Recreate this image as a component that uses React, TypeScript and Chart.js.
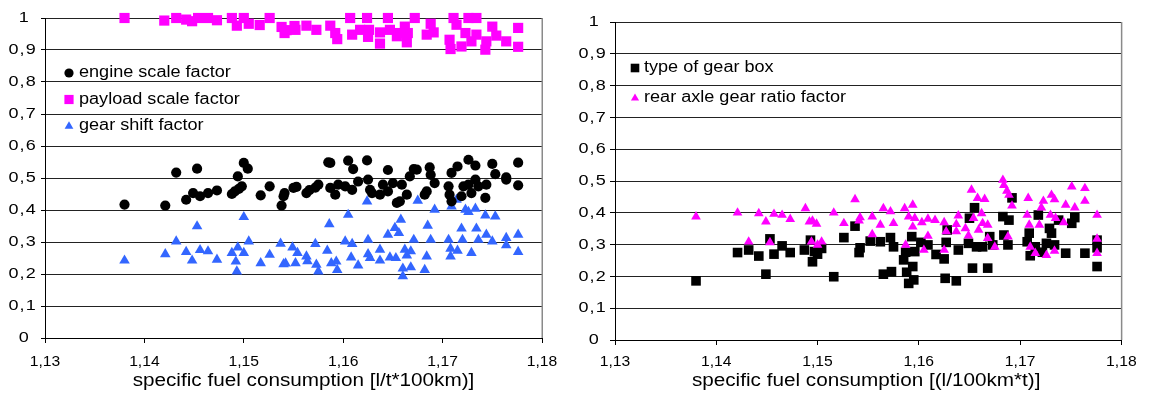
import React, { useEffect, useRef } from 'react';
import { Chart, registerables } from 'chart.js';

Chart.register(...registerables);

const FONT = "'Liberation Sans', Arial, Helvetica, sans-serif";

// ---------- axis ranges ----------
const X_MIN = 1.13;
const X_MAX = 1.18;
const X_STEP = 0.01;
const Y_MIN = 0;
const Y_MAX = 1;
const Y_STEP = 0.1;

// ---------- titles / labels ----------
const LEFT_X_TITLE = 'specific fuel consumption [l/t*100km)]';
const RIGHT_X_TITLE = 'specific fuel consumption [(l/100km*t)]';
const LEFT_LABELS = ['engine scale factor', 'payload scale factor', 'gear shift factor'];
const RIGHT_LABELS = ['type of gear box', 'rear axle gear ratio factor'];

// ---------- left chart data: [x, y] ----------
const engineScale: number[][] = [
  [1.1380, 0.417], [1.1421, 0.414], [1.1432, 0.517], [1.1442, 0.432], [1.1449, 0.453], [1.1453, 0.529],
  [1.1456, 0.443], [1.1464, 0.453], [1.1473, 0.461], [1.1488, 0.450], [1.1491, 0.458], [1.1494, 0.505],
  [1.1495, 0.466], [1.1498, 0.474], [1.1500, 0.547], [1.1504, 0.529], [1.1517, 0.446], [1.1526, 0.474],
  [1.1538, 0.414], [1.1540, 0.443], [1.1541, 0.453], [1.1550, 0.469], [1.1553, 0.472], [1.1563, 0.453],
  [1.1566, 0.462], [1.1572, 0.470], [1.1575, 0.479], [1.1585, 0.549], [1.1587, 0.547], [1.1587, 0.469],
  [1.1592, 0.448], [1.1595, 0.479], [1.1602, 0.474], [1.1605, 0.554], [1.1609, 0.463], [1.1610, 0.528],
  [1.1615, 0.489], [1.1624, 0.555], [1.1625, 0.495], [1.1627, 0.463], [1.1629, 0.453], [1.1637, 0.448],
  [1.1640, 0.479], [1.1645, 0.458], [1.1645, 0.525], [1.1650, 0.484], [1.1654, 0.422], [1.1657, 0.427],
  [1.1659, 0.479], [1.1664, 0.448], [1.1667, 0.505], [1.1671, 0.528], [1.1674, 0.526], [1.1682, 0.448],
  [1.1684, 0.458], [1.1687, 0.533], [1.1688, 0.510], [1.1692, 0.484], [1.1706, 0.474], [1.1707, 0.448],
  [1.1709, 0.427], [1.1709, 0.516], [1.1715, 0.536], [1.1719, 0.443], [1.1721, 0.474], [1.1726, 0.479],
  [1.1726, 0.557], [1.1729, 0.453], [1.1733, 0.495], [1.1733, 0.539], [1.1736, 0.474], [1.1743, 0.438],
  [1.1744, 0.479], [1.1750, 0.544], [1.1753, 0.512], [1.1764, 0.495], [1.1764, 0.502], [1.1776, 0.548],
  [1.1776, 0.477],
];

const payloadScale: number[][] = [
  [1.1380, 1.0], [1.1420, 0.992], [1.1432, 1.0], [1.1442, 0.995], [1.1448, 0.99], [1.1454, 1.0],
  [1.1464, 1.0], [1.1473, 0.993], [1.1488, 1.0], [1.1493, 0.976], [1.1500, 1.0], [1.1505, 0.982],
  [1.1516, 0.978], [1.1526, 1.0], [1.1538, 0.972], [1.1541, 0.953], [1.1543, 0.962], [1.1551, 0.975],
  [1.1552, 0.963], [1.1563, 0.976], [1.1573, 0.963], [1.1587, 0.976], [1.1592, 0.953], [1.1594, 0.934],
  [1.1607, 1.0], [1.1609, 0.948], [1.1617, 0.963], [1.1624, 1.0], [1.1625, 0.941], [1.1626, 0.963],
  [1.1637, 0.920], [1.1637, 0.955], [1.1645, 1.0], [1.1647, 0.963], [1.1654, 0.943], [1.1657, 0.953],
  [1.1662, 0.973], [1.1664, 0.924], [1.1665, 0.953], [1.1672, 1.0], [1.1684, 0.948], [1.1688, 0.982],
  [1.1691, 0.955], [1.1707, 0.932], [1.1708, 0.903], [1.1711, 1.0], [1.1714, 0.979], [1.1719, 0.911],
  [1.1723, 0.953], [1.1726, 1.0], [1.1729, 0.927], [1.1734, 1.0], [1.1734, 0.948], [1.1743, 0.901],
  [1.1744, 0.927], [1.1750, 0.973], [1.1754, 0.945], [1.1764, 0.927], [1.1776, 0.969], [1.1776, 0.910],
];

const gearShift: number[][] = [
  [1.1380, 0.242], [1.1421, 0.262], [1.1432, 0.302], [1.1442, 0.269], [1.1448, 0.242], [1.1453, 0.349],
  [1.1456, 0.275], [1.1464, 0.271], [1.1473, 0.245], [1.1488, 0.266], [1.1492, 0.239], [1.1493, 0.208],
  [1.1494, 0.283], [1.1500, 0.266], [1.1500, 0.378], [1.1505, 0.302], [1.1517, 0.234], [1.1526, 0.260],
  [1.1537, 0.295], [1.1540, 0.231], [1.1542, 0.233], [1.1549, 0.283], [1.1552, 0.234], [1.1554, 0.266],
  [1.1563, 0.255], [1.1564, 0.240], [1.1572, 0.294], [1.1573, 0.229], [1.1575, 0.208], [1.1584, 0.273],
  [1.1586, 0.356], [1.1588, 0.234], [1.1593, 0.239], [1.1594, 0.213], [1.1602, 0.302], [1.1605, 0.385],
  [1.1608, 0.252], [1.1609, 0.294], [1.1615, 0.227], [1.1624, 0.427], [1.1625, 0.307], [1.1625, 0.262],
  [1.1627, 0.250], [1.1637, 0.276], [1.1637, 0.242], [1.1645, 0.323], [1.1647, 0.252], [1.1652, 0.344],
  [1.1653, 0.250], [1.1656, 0.328], [1.1658, 0.370], [1.1660, 0.217], [1.1660, 0.193], [1.1662, 0.276],
  [1.1664, 0.258], [1.1668, 0.271], [1.1668, 0.221], [1.1671, 0.307], [1.1675, 0.429], [1.1682, 0.213],
  [1.1684, 0.255], [1.1685, 0.351], [1.1688, 0.307], [1.1692, 0.401], [1.1706, 0.307], [1.1708, 0.279],
  [1.1708, 0.255], [1.1709, 0.411], [1.1714, 0.432], [1.1715, 0.273], [1.1719, 0.342], [1.1720, 0.307],
  [1.1723, 0.401], [1.1726, 0.394], [1.1729, 0.266], [1.1733, 0.404], [1.1734, 0.342], [1.1736, 0.307],
  [1.1743, 0.383], [1.1744, 0.323], [1.1750, 0.302], [1.1753, 0.380], [1.1764, 0.313], [1.1764, 0.290],
  [1.1776, 0.323], [1.1776, 0.269],
];

// ---------- right chart data: [x, y] ----------
const gearBoxType: number[][] = [
  [1.1380, 0.186], [1.1421, 0.275], [1.1432, 0.283], [1.1442, 0.264], [1.1449, 0.207], [1.1453, 0.318],
  [1.1457, 0.270], [1.1465, 0.296], [1.1473, 0.275], [1.1487, 0.283], [1.1493, 0.314], [1.1495, 0.246],
  [1.1497, 0.278], [1.1500, 0.270], [1.1504, 0.288], [1.1516, 0.199], [1.1526, 0.322], [1.1537, 0.358],
  [1.1541, 0.275], [1.1542, 0.290], [1.1552, 0.311], [1.1562, 0.309], [1.1565, 0.207], [1.1572, 0.322],
  [1.1573, 0.215], [1.1575, 0.293], [1.1585, 0.252], [1.1587, 0.276], [1.1588, 0.213], [1.1590, 0.178],
  [1.1593, 0.325], [1.1594, 0.231], [1.1595, 0.189], [1.1596, 0.278], [1.1602, 0.307], [1.1609, 0.299],
  [1.1617, 0.269], [1.1625, 0.255], [1.1626, 0.194], [1.1627, 0.307], [1.1628, 0.346], [1.1637, 0.186],
  [1.1639, 0.283], [1.1649, 0.304], [1.1650, 0.383], [1.1653, 0.226], [1.1655, 0.416], [1.1657, 0.293],
  [1.1663, 0.293], [1.1668, 0.226], [1.1670, 0.325], [1.1673, 0.299], [1.1683, 0.388], [1.1684, 0.330],
  [1.1688, 0.299], [1.1689, 0.377], [1.1692, 0.447], [1.1707, 0.309], [1.1709, 0.336], [1.1710, 0.265],
  [1.1715, 0.293], [1.1718, 0.393], [1.1722, 0.276], [1.1726, 0.304], [1.1729, 0.351], [1.1731, 0.336],
  [1.1734, 0.299], [1.1738, 0.377], [1.1745, 0.273], [1.1751, 0.367], [1.1754, 0.385], [1.1764, 0.273],
  [1.1776, 0.314], [1.1776, 0.290], [1.1776, 0.231],
];

const rearAxleRatio: number[][] = [
  [1.1380, 0.388], [1.1421, 0.400], [1.1432, 0.309], [1.1442, 0.398], [1.1449, 0.372], [1.1453, 0.307],
  [1.1457, 0.396], [1.1465, 0.393], [1.1473, 0.380], [1.1488, 0.414], [1.1492, 0.372], [1.1494, 0.309],
  [1.1495, 0.375], [1.1499, 0.365], [1.1500, 0.299], [1.1504, 0.309], [1.1516, 0.400], [1.1526, 0.367],
  [1.1537, 0.442], [1.1541, 0.375], [1.1542, 0.385], [1.1554, 0.388], [1.1554, 0.332], [1.1562, 0.362],
  [1.1565, 0.414], [1.1572, 0.404], [1.1575, 0.367], [1.1586, 0.414], [1.1587, 0.299], [1.1590, 0.388],
  [1.1594, 0.425], [1.1594, 0.356], [1.1596, 0.383], [1.1603, 0.370], [1.1605, 0.283], [1.1609, 0.381],
  [1.1609, 0.327], [1.1616, 0.377], [1.1625, 0.370], [1.1625, 0.283], [1.1627, 0.341], [1.1637, 0.364],
  [1.1637, 0.341], [1.1639, 0.391], [1.1646, 0.351], [1.1649, 0.328], [1.1652, 0.472], [1.1654, 0.383],
  [1.1658, 0.446], [1.1659, 0.346], [1.1662, 0.398], [1.1663, 0.367], [1.1665, 0.443], [1.1668, 0.362],
  [1.1668, 0.320], [1.1675, 0.293], [1.1683, 0.503], [1.1684, 0.487], [1.1687, 0.469], [1.1689, 0.456],
  [1.1688, 0.325], [1.1692, 0.422], [1.1707, 0.393], [1.1708, 0.446], [1.1709, 0.362], [1.1710, 0.293],
  [1.1715, 0.273], [1.1719, 0.362], [1.1721, 0.416], [1.1723, 0.437], [1.1726, 0.267], [1.1730, 0.393],
  [1.1731, 0.456], [1.1734, 0.442], [1.1734, 0.280], [1.1735, 0.383], [1.1743, 0.370], [1.1745, 0.425],
  [1.1751, 0.482], [1.1754, 0.416], [1.1764, 0.477], [1.1764, 0.437], [1.1776, 0.393], [1.1776, 0.318],
  [1.1776, 0.273],
];

const BLACK = '#000000';
const MAGENTA = '#FF00FF';
const BLUE = '#3366FF';

const toXY = (arr: number[][]) => arr.map(([x, y]) => ({ x, y }));

const fmtX = (v: any) => Number(v).toFixed(2).replace('.', ',');
const fmtY = (v: any) => {
  const n = Math.round(Number(v) * 10) / 10;
  if (n === 0) return '0';
  if (n === 1) return '1';
  return n.toFixed(1).replace('.', ',');
};

function drawMarker(ctx: CanvasRenderingContext2D, style: string, x: number, y: number, r: number, color: string) {
  ctx.fillStyle = color;
  ctx.beginPath();
  if (style === 'circle') {
    ctx.arc(x, y, r, 0, Math.PI * 2);
  } else if (style === 'rect') {
    ctx.rect(x - r, y - r, 2 * r, 2 * r);
  } else {
    const h = r * 1.6;
    const w = r * 1.9;
    ctx.moveTo(x, y - h / 2 - 1);
    ctx.lineTo(x + w / 2, y + h / 2 - 1);
    ctx.lineTo(x - w / 2, y + h / 2 - 1);
    ctx.closePath();
  }
  ctx.fill();
}

function stretchedText(ctx: CanvasRenderingContext2D, text: string, x: number, y: number, align: CanvasTextAlign, sx: number) {
  ctx.save();
  ctx.translate(x, y);
  ctx.scale(sx, 1);
  ctx.textAlign = align;
  ctx.fillText(text, 0, 0);
  ctx.restore();
}

const overlayPlugin = {
  id: 'overlay',
  afterDraw(chart: any, _args: any, opts: any) {
    const { ctx, chartArea: a } = chart;
    ctx.save();
    // right border of the plot area
    ctx.strokeStyle = '#8a8a8a';
    ctx.lineWidth = 1.5;
    ctx.beginPath();
    ctx.moveTo(a.right + 0.25, a.top);
    ctx.lineTo(a.right + 0.25, a.bottom);
    ctx.stroke();

    ctx.fillStyle = '#000';
    ctx.textBaseline = 'middle';

    // y tick labels (values from the library's y scale)
    const ys = chart.scales.y;
    ctx.font = `15px ${FONT}`;
    (ctx as any).letterSpacing = '1px';
    ys.ticks.forEach((t: any) => {
      const py = ys.getPixelForValue(t.value);
      const lbl = fmtY(t.value);
      const extra = lbl.indexOf(',') < 0 ? 7 : 0;
      stretchedText(ctx, lbl, a.left - opts.yLabelGap - extra, py, 'right', 1.2);
    });
    (ctx as any).letterSpacing = '0px';

    // x tick labels (values from the library's x scale)
    const xs = chart.scales.x;
    ctx.font = `14px ${FONT}`;
    xs.ticks.forEach((t: any) => {
      const px = xs.getPixelForValue(t.value);
      stretchedText(ctx, fmtX(t.value), px, opts.xLabelY, 'center', 1.12);
    });

    // legend inside plot area
    ctx.font = `16px ${FONT}`;
    (opts.items || []).forEach((it: any, i: number) => {
      const y = a.top + opts.top + i * opts.gap;
      const mx = a.left + opts.markerX;
      drawMarker(ctx, it.style, mx, y, it.size, it.color);
      ctx.fillStyle = '#000';
      stretchedText(ctx, it.label, a.left + opts.textX, y, 'left', 1.13);
    });

    // x axis title
    ctx.font = `18px ${FONT}`;
    ctx.fillStyle = '#000';
    stretchedText(ctx, opts.title, (a.left + a.right) / 2 + opts.titleDx, opts.titleY, 'center', 1.15);
    ctx.restore();
  },
};

function makeConfig(datasets: any[], geom: any, overlay: any) {
  return {
    type: 'scatter',
    data: { datasets },
    plugins: [overlayPlugin],
    options: {
      responsive: false,
      animation: false,
      events: [],
      layout: { padding: { left: 0, right: geom.padRight, top: geom.padTop, bottom: 0 } },
      plugins: {
        legend: { display: false },
        tooltip: { enabled: false },
        overlay,
      },
      scales: {
        x: {
          type: 'linear',
          min: X_MIN,
          max: X_MAX,
          afterFit: (s: any) => { s.height = geom.xHeight; },
          ticks: {
            stepSize: X_STEP,
            callback: fmtX,
            color: 'rgba(0,0,0,0)',
            font: { family: FONT, size: 14 },
            padding: 14,
            maxRotation: 0,
          },
          grid: { drawOnChartArea: false, drawTicks: true, tickLength: 5, tickColor: '#000', color: '#000' },
          border: { color: '#000', width: 1 },
        },
        y: {
          type: 'linear',
          min: Y_MIN,
          max: Y_MAX,
          afterFit: (s: any) => { s.width = geom.yWidth; },
          ticks: {
            stepSize: Y_STEP,
            callback: fmtY,
            color: 'rgba(0,0,0,0)',
            font: { family: FONT, size: 14 },
            padding: geom.yPad,
          },
          grid: { color: '#222', lineWidth: 1, drawTicks: true, tickLength: geom.yTick, tickColor: '#000' },
          border: { color: '#000', width: 1 },
        },
      },
    },
  };
}

function ChartCanvas({ config, width, height, left }: any) {
  const ref = useRef<HTMLCanvasElement | null>(null);
  useEffect(() => {
    if (!ref.current) return;
    const chart = new Chart(ref.current, config);
    return () => chart.destroy();
  }, []);
  return (
    <canvas
      ref={ref}
      width={width}
      height={height}
      style={{ position: 'absolute', left, top: 0, width, height }}
    />
  );
}

export default function App() {
  const leftDatasets = [
    { label: LEFT_LABELS[0], data: toXY(engineScale), pointStyle: 'circle', pointRadius: 5.1, backgroundColor: BLACK, borderWidth: 0, clip: false },
    { label: LEFT_LABELS[1], data: toXY(payloadScale), pointStyle: 'rect', pointRadius: 7.2, backgroundColor: MAGENTA, borderWidth: 0, clip: false },
    { label: LEFT_LABELS[2], data: toXY(gearShift), pointStyle: 'triangle', pointRadius: 6.1, backgroundColor: BLUE, borderWidth: 0, clip: false },
  ];
  const rightDatasets = [
    { label: RIGHT_LABELS[0], data: toXY(gearBoxType), pointStyle: 'rect', pointRadius: 6.8, backgroundColor: BLACK, borderWidth: 0, clip: false, order: 2 },
    { label: RIGHT_LABELS[1], data: toXY(rearAxleRatio), pointStyle: 'triangle', pointRadius: 5.6, backgroundColor: MAGENTA, borderWidth: 0, clip: false, order: 1 },
  ];

  const leftCfg = makeConfig(
    leftDatasets,
    { padRight: 28, padTop: 18, xHeight: 56, yWidth: 45, yPad: 4, yTick: 4 },
    {
      title: LEFT_X_TITLE, titleDx: 10, titleY: 381, yLabelGap: 8, xLabelY: 362,
      top: 55, gap: 26.5, markerX: 24, textX: 34,
      items: [
        { label: LEFT_LABELS[0], style: 'circle', size: 4.6, color: BLACK },
        { label: LEFT_LABELS[1], style: 'rect', size: 4.6, color: MAGENTA },
        { label: LEFT_LABELS[2], style: 'triangle', size: 4.6, color: BLUE },
      ],
    },
  );
  const rightCfg = makeConfig(
    rightDatasets,
    { padRight: 18, padTop: 22, xHeight: 54, yWidth: 40, yPad: 3, yTick: 5 },
    {
      title: RIGHT_X_TITLE, titleDx: -2, titleY: 381, yLabelGap: 8, xLabelY: 362,
      top: 46, gap: 30, markerX: 20, textX: 29,
      items: [
        { label: RIGHT_LABELS[0], style: 'rect', size: 4.3, color: BLACK },
        { label: RIGHT_LABELS[1], style: 'triangle', size: 4.3, color: MAGENTA },
      ],
    },
  );

  return (
    <div style={{ position: 'absolute', left: 0, top: 0, width: 1149, height: 394, background: '#fff', overflow: 'hidden' }}>
      <ChartCanvas config={leftCfg} width={570} height={394} left={0} />
      <ChartCanvas config={rightCfg} width={574} height={394} left={575} />
    </div>
  );
}
